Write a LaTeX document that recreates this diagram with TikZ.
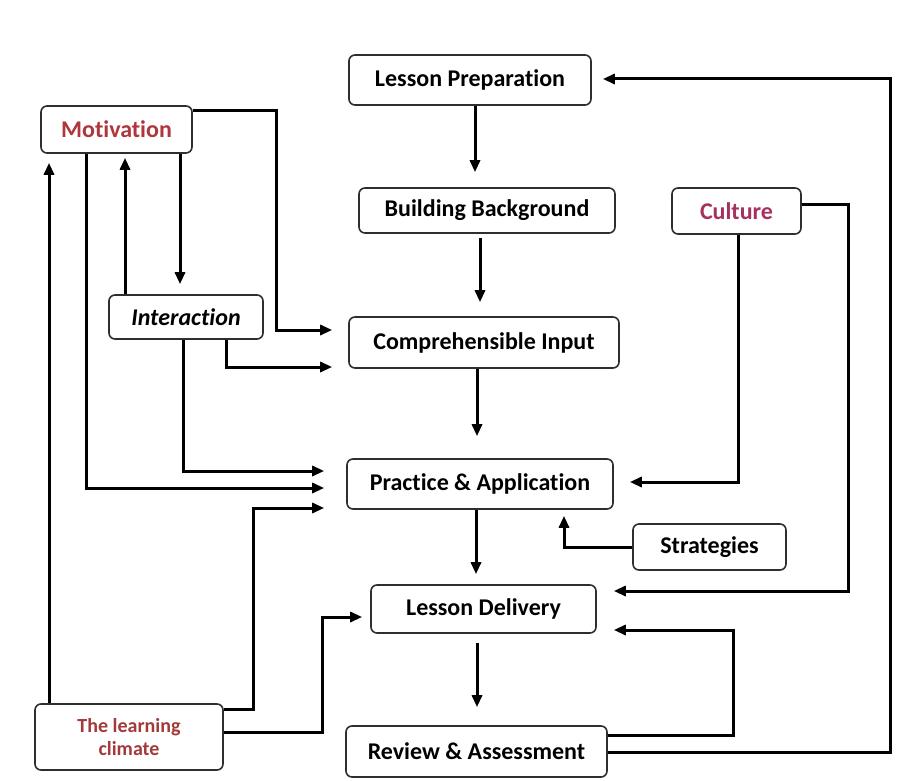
\documentclass[tikz,border=0pt]{standalone}
\usepackage{fontspec}
\setmainfont{Carlito}[Ligatures=CommonOff]
\usetikzlibrary{arrows.meta}
\definecolor{TPLine}{HTML}{2E2E2E}
\definecolor{TPRed}{HTML}{B0363E}
\definecolor{TPRose}{HTML}{A8305E}
\definecolor{TPBrick}{HTML}{A33A3A}
\tikzset{
  tpbox/.style={
    draw=TPLine,
    fill=white,
    line width=0.8pt,
    rounded corners=3pt,
    align=center,
    inner sep=0pt,
    font=\bfseries\fontsize{12}{14}\selectfont
  },
  tpflow/.style={-{Triangle[length=6pt,width=5pt]},draw=black,line width=1.5pt,shorten >=7pt}
}

\begin{document}
\begin{tikzpicture}[x=0.5pt,y=-0.5pt]
  \useasboundingbox (0,0) rectangle (915,781);
  % main column
  \node[tpbox,minimum width=121pt,minimum height=25pt] (prep) at (470,80) {Lesson Preparation};
  \node[tpbox,minimum width=128pt,minimum height=22.5pt] (build) at (487,210.5) {Building Background};
  \node[tpbox,minimum width=135pt,minimum height=25.5pt] (input) at (484,342.5) {Comprehensible Input};
  \node[tpbox,minimum width=133pt,minimum height=25pt] (practice) at (480,484) {Practice \& Application};
  \node[tpbox,minimum width=112.5pt,minimum height=24pt] (delivery) at (483.5,609) {Lesson Delivery};
  \node[tpbox,minimum width=130.5pt,minimum height=25.5pt] (review) at (476.5,751.5) {Review \& Assessment};
  % side boxes
  \node[tpbox,minimum width=64.5pt,minimum height=23pt,text=TPRose] (culture) at (736.5,211) {Culture};
  \node[tpbox,minimum width=76.5pt,minimum height=23pt] (strategies) at (709.5,547) {Strategies};
  \node[tpbox,minimum width=75.5pt,minimum height=23.5pt,text=TPRed] (motivation) at (116.5,129.5) {Motivation};
  \node[tpbox,minimum width=77pt,minimum height=22pt,font=\bfseries\itshape\fontsize{12}{14}\selectfont] (interaction) at (186,317) {Interaction};
  \node[tpbox,minimum width=94pt,minimum height=33pt,text=TPBrick,font=\bfseries\fontsize{10}{11.5}\selectfont] (climate) at (129,737) {The learning\\climate};

  % main flow
  \draw[tpflow,shorten >=7.5pt] (prep.south -| 475,0) -- (build.north -| 475,0);
  \draw[tpflow,shorten <=2pt] (build.south -| 480,0) -- (input.north -| 480,0);
  \draw[tpflow,shorten >=11pt] (input.south -| 477,0) -- (practice.north -| 477,0);
  \draw[tpflow,shorten >=5pt] (practice.south -| 476,0) -- (delivery.north -| 476,0);
  \draw[tpflow,shorten <=4.5pt,shorten >=9pt] (delivery.south -| 477,0) -- (review.north -| 477,0);

  % motivation and interaction
  \draw[tpflow,shorten >=8pt] (motivation.east |- 0,111) -| (276,330) -- (input.west |- 0,330);
  \draw[tpflow,shorten >=5pt] (motivation.south -| 180,0) -- (interaction.north -| 180,0);
  \draw[tpflow,shorten >=2pt] (interaction.north -| 125,0) -- (motivation.south -| 125,0);
  \draw[tpflow,shorten >=11pt] (motivation.south -| 86,0) |- (practice.west |- 0,488);
  \draw[tpflow,shorten >=11pt] (interaction.south -| 183,0) |- (practice.west |- 0,471);
  \draw[tpflow,shorten >=8pt] (interaction.south -| 226,0) |- (input.west |- 0,367);

  % learning climate
  \draw[tpflow,shorten >=4.5pt] (climate.north -| 49,0) -- (motivation.south -| 49,0);
  \draw[tpflow,shorten >=11pt] (climate.east |- 0,709) -| (253,508) -- (practice.west |- 0,508);
  \draw[tpflow,shorten >=4pt] (climate.east |- 0,732) -| (322,617) -- (delivery.west |- 0,617);

  % right side
  \draw[tpflow,shorten >=8pt] (culture.south -| 738,0) |- (practice.east |- 0,482);
  \draw[tpflow,shorten >=8.5pt] (culture.east |- 0,204) -| (848,591) -- (delivery.east |- 0,591);
  \draw[tpflow,shorten >=3pt] (strategies.west) -| (practice.south -| 564,0);
  \draw[tpflow,shorten >=8.5pt] (review.east |- 0,735) -| (733,630) -- (delivery.east |- 0,630);
  \draw[tpflow,shorten >=5.5pt] (review.east |- 0,752) -| (890,79) -- (prep.east |- 0,79);
\end{tikzpicture}
\end{document}
